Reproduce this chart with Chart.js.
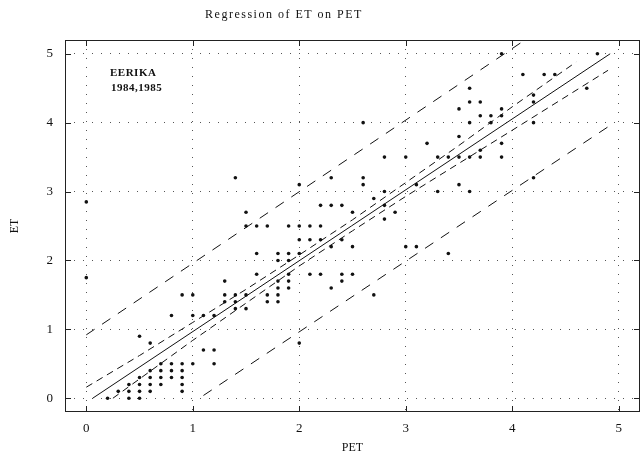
<!DOCTYPE html>
<html lang="en">
<head>
  <meta charset="UTF-8">
  <title>Regression of ET on PET</title>
  <script src="https://cdn.jsdelivr.net/npm/chart.js"></script>
  <style>
    html, body { margin: 0; padding: 0; background: #fff; }
    canvas { display: block; }
  </style>
</head>
<body>
  <canvas id="etChart" width="644" height="458"></canvas>

  <script>
    const chartTitle = 'Regression of ET on PET';
    const siteName = 'EERIKA';
    const years = '1984,1985';

    const xTicks = [0, 1, 2, 3, 4, 5];
    const yTicks = [0, 1, 2, 3, 4, 5];

    const pet = [
      0.2, 0.4, 0.5, 0.3, 0.4, 0.5, 0.6, 0.9, 0.4, 0.5, 0.6, 0.7, 0.9, 0.5, 0.6, 0.7, 0.8, 0.9,
      0.6, 0.7, 0.8, 0.9, 0.7, 0.8, 0.9, 1.0, 1.2, 1.1, 1.2, 0.6, 0.5, 0.8, 1.0, 1.1, 1.2,
      1.4, 1.5, 1.3, 1.4, 1.7, 1.8, 0.9, 1.0, 1.3, 1.4, 1.5, 1.7, 1.8, 2.7, 1.8, 1.9, 2.3,
      1.3, 1.8, 1.9, 2.4, 1.6, 1.9, 2.1, 2.2, 2.4, 2.5, 1.8, 1.9, 1.6, 1.8, 1.9, 2.0,
      2.3, 2.5, 3.0, 3.1, 3.4, 2.0, 2.1, 2.2, 2.4, 1.5, 1.6, 1.7, 1.9, 2.0, 2.1, 2.2,
      2.8, 1.5, 2.5, 2.9, 2.2, 2.3, 2.4, 2.8, 2.7, 2.8, 3.3, 3.6, 2.0, 2.6, 3.1, 3.5,
      1.4, 2.3, 2.6, 4.2, 2.8, 3.0, 3.3, 3.4, 3.5, 3.6, 3.7, 3.9, 3.7, 3.2, 3.9, 3.5,
      2.6, 3.6, 3.8, 4.2, 3.7, 3.8, 3.9, 3.5, 3.9, 3.6, 3.7, 4.2, 4.2, 3.6, 4.7, 4.1,
      4.3, 4.4, 3.9, 4.8, 0.0, 0.0, 2.0
    ];
    const et = [
      0.0, 0.0, 0.0, 0.1, 0.1, 0.1, 0.1, 0.1, 0.2, 0.2, 0.2, 0.2, 0.2, 0.3, 0.3, 0.3, 0.3, 0.3,
      0.4, 0.4, 0.4, 0.4, 0.5, 0.5, 0.5, 0.5, 0.5, 0.7, 0.7, 0.8, 0.9, 1.2, 1.2, 1.2, 1.2,
      1.3, 1.3, 1.4, 1.4, 1.4, 1.4, 1.5, 1.5, 1.5, 1.5, 1.5, 1.5, 1.5, 1.5, 1.6, 1.6, 1.6,
      1.7, 1.7, 1.7, 1.7, 1.8, 1.8, 1.8, 1.8, 1.8, 1.8, 2.0, 2.0, 2.1, 2.1, 2.1, 2.1,
      2.2, 2.2, 2.2, 2.2, 2.1, 2.3, 2.3, 2.3, 2.3, 2.5, 2.5, 2.5, 2.5, 2.5, 2.5, 2.5,
      2.6, 2.7, 2.7, 2.7, 2.8, 2.8, 2.8, 2.8, 2.9, 3.0, 3.0, 3.0, 3.1, 3.1, 3.1, 3.1,
      3.2, 3.2, 3.2, 3.2, 3.5, 3.5, 3.5, 3.5, 3.5, 3.5, 3.5, 3.5, 3.6, 3.7, 3.7, 3.8,
      4.0, 4.0, 4.0, 4.0, 4.1, 4.1, 4.1, 4.2, 4.2, 4.3, 4.3, 4.3, 4.4, 4.5, 4.5, 4.7,
      4.7, 4.7, 5.0, 5.0, 1.75, 2.85, 0.8
    ];

    // fitted line and bands, read at a few points
    const fitX = [0.06, 4.92];
    const fitY = [0.0, 5.0];
    const confX = [0.0, 0.5, 1.0, 1.5, 2.0, 2.5, 3.0, 3.5, 4.0, 4.6];
    const confUpper = [0.16, 0.62, 1.10, 1.58, 2.08, 2.59, 3.13, 3.67, 4.23, 4.88];
    const confLowX = [0.25, 0.5, 1.0, 1.5, 2.0, 2.5, 3.0, 3.5, 4.0, 4.9];
    const confLower = [0.0, 0.28, 0.84, 1.38, 1.92, 2.43, 2.93, 3.41, 3.89, 4.76];
    const predUpX = [0.0, 4.1];
    const predUpper = [0.92, 5.18];
    const predLowX = [1.1, 4.9];
    const predLower = [0.04, 3.94];

    const toPoints = (xs, ys) => xs.map((x, i) => ({ x, y: ys[i] }));

    const lineSet = (xs, ys, dash) => ({
      data: toPoints(xs, ys),
      showLine: true,
      borderColor: '#111',
      borderWidth: 1,
      borderDash: dash,
      pointRadius: 0,
      fill: false
    });

    const framePlugin = {
      id: 'frame',
      afterDraw(chart) {
        const ctx = chart.ctx;
        const a = chart.chartArea;
        const xs = chart.scales.x;
        const ys = chart.scales.y;
        ctx.save();
        ctx.strokeStyle = '#222';
        ctx.lineWidth = 1;
        ctx.strokeRect(a.left + 0.5, a.top + 0.5, a.right - a.left - 1, a.bottom - a.top - 1);
        ctx.beginPath();
        xTicks.forEach(v => {
          const px = Math.round(xs.getPixelForValue(v)) + 0.5;
          ctx.moveTo(px, a.bottom); ctx.lineTo(px, a.bottom - 6);
          ctx.moveTo(px, a.top); ctx.lineTo(px, a.top + 6);
        });
        yTicks.forEach(v => {
          const py = Math.round(ys.getPixelForValue(v)) + 0.5;
          ctx.moveTo(a.left, py); ctx.lineTo(a.left + 6, py);
          ctx.moveTo(a.right, py); ctx.lineTo(a.right - 6, py);
        });
        ctx.stroke();

        ctx.fillStyle = '#111';
        ctx.textBaseline = 'middle';
        ctx.textAlign = 'center';
        ctx.font = '12px "Liberation Serif"';
        ctx.letterSpacing = '1.5px';
        ctx.fillText(chartTitle, 284, 15);
        ctx.textAlign = 'left';
        ctx.font = 'bold 11px "Liberation Serif"';
        ctx.letterSpacing = '0.5px';
        ctx.fillText(siteName, 110, 73);
        ctx.fillText(years, 111, 88);
        ctx.restore();
      }
    };

    const tickFont = { family: 'Liberation Serif', size: 13 };
    const gridStyle = { color: '#555', lineWidth: 1, drawTicks: false };
    const gridBorder = { display: false, dash: [1, 8] };

    new Chart(document.getElementById('etChart'), {
      type: 'scatter',
      data: {
        datasets: [
          {
            data: toPoints(pet, et),
            backgroundColor: '#111',
            borderColor: '#111',
            pointRadius: 1.8,
            borderWidth: 0
          },
          lineSet(fitX, fitY, []),
          lineSet(confX, confUpper, [7, 5]),
          lineSet(confLowX, confLower, [7, 5]),
          lineSet(predUpX, predUpper, [10, 9]),
          lineSet(predLowX, predLower, [10, 9])
        ]
      },
      options: {
        responsive: false,
        animation: false,
        layout: { padding: { top: 40, right: 4, left: 0, bottom: 0 } },
        plugins: {
          legend: { display: false },
          tooltip: { enabled: false }
        },
        scales: {
          x: {
            type: 'linear',
            min: -0.2,
            max: 5.2,
            afterBuildTicks: s => { s.ticks = xTicks.map(v => ({ value: v })); },
            afterFit: s => { s.height = 46; },
            grid: gridStyle,
            border: gridBorder,
            ticks: { color: '#111', font: tickFont, padding: 9 },
            title: { display: true, text: 'PET', color: '#111', font: { family: 'Liberation Serif', size: 12 }, padding: { top: 0, bottom: 3 } }
          },
          y: {
            type: 'linear',
            min: -0.2,
            max: 5.2,
            afterBuildTicks: s => { s.ticks = yTicks.map(v => ({ value: v })); },
            afterFit: s => { s.width = 65; },
            grid: gridStyle,
            border: gridBorder,
            ticks: { color: '#111', font: tickFont, padding: 12 },
            title: { display: true, text: 'ET', color: '#111', font: { family: 'Liberation Serif', size: 12 }, padding: { top: 8, bottom: 0 } }
          }
        }
      },
      plugins: [framePlugin]
    });
  </script>
</body>
</html>
